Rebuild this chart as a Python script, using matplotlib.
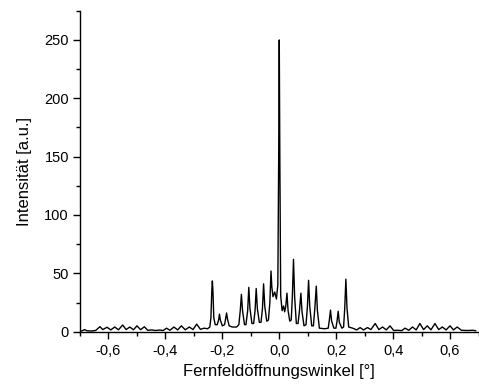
import matplotlib
matplotlib.use("Agg")
import matplotlib.pyplot as plt
from matplotlib.ticker import MultipleLocator, FuncFormatter

plt.rcParams['font.family'] = ['Liberation Sans', 'DejaVu Sans']

# Far-field intensity profile (angle in degrees, intensity in a.u.)
angle = [
    -0.700, -0.692, -0.684, -0.676, -0.660, -0.645, -0.630, -0.620, -0.605, -0.592,
    -0.578, -0.565, -0.550, -0.538, -0.525, -0.512, -0.500, -0.487, -0.474, -0.462,
    -0.448, -0.435, -0.420, -0.408, -0.396, -0.384, -0.370, -0.357, -0.344, -0.330,
    -0.316, -0.303, -0.290, -0.277, -0.264, -0.252, -0.244, -0.240, -0.237, -0.235,
    -0.233, -0.230, -0.225, -0.218, -0.213, -0.210, -0.207, -0.200, -0.192, -0.188,
    -0.185, -0.182, -0.176, -0.165, -0.150, -0.142, -0.137, -0.133, -0.129, -0.122,
    -0.117, -0.111, -0.107, -0.103, -0.096, -0.090, -0.085, -0.081, -0.077, -0.070,
    -0.064, -0.059, -0.055, -0.051, -0.044, -0.038, -0.033, -0.029, -0.026, -0.022,
    -0.016, -0.010, -0.005, -0.002, 0.000, 0.002, 0.005, 0.010, 0.015, 0.019,
    0.023, 0.027, 0.031, 0.037, 0.042, 0.046, 0.050, 0.054, 0.060, 0.066,
    0.071, 0.076, 0.080, 0.087, 0.094, 0.099, 0.103, 0.107, 0.114, 0.120,
    0.125, 0.130, 0.134, 0.141, 0.160, 0.172, 0.176, 0.180, 0.184, 0.192,
    0.199, 0.203, 0.207, 0.211, 0.220, 0.226, 0.230, 0.234, 0.238, 0.244,
    0.258, 0.272, 0.284, 0.296, 0.310, 0.322, 0.337, 0.350, 0.363, 0.376,
    0.389, 0.402, 0.416, 0.430, 0.442, 0.455, 0.468, 0.481, 0.494, 0.507,
    0.520, 0.533, 0.547, 0.560, 0.573, 0.586, 0.600, 0.612, 0.625, 0.640,
    0.660, 0.680, 0.690,
]
intensity = [
    0.5, 0.8, 1.8, 0.8, 0.6, 1.0, 4.3, 1.8, 3.8, 1.5,
    4.0, 1.6, 5.7, 1.8, 4.0, 1.6, 5.0, 1.7, 4.2, 1.2,
    1.5, 1.0, 1.4, 1.0, 3.0, 1.2, 4.0, 1.5, 5.0, 1.6,
    4.0, 1.8, 6.5, 2.0, 3.0, 2.5, 4.0, 12.0, 35.0, 43.5,
    35.0, 12.0, 6.0, 6.0, 10.0, 15.0, 10.0, 5.0, 6.0, 12.0,
    16.0, 11.0, 5.0, 4.0, 4.0, 6.0, 18.0, 32.0, 18.0, 6.0,
    6.0, 18.0, 38.0, 20.0, 7.0, 7.0, 18.0, 37.0, 20.0, 8.0,
    8.0, 20.0, 41.0, 22.0, 9.0, 10.0, 25.0, 52.0, 38.0, 30.0,
    34.0, 28.0, 40.0, 150.0, 250.0, 150.0, 31.0, 18.0, 22.0, 17.0,
    22.0, 33.0, 18.0, 9.0, 10.0, 30.0, 62.0, 30.0, 7.0, 7.0,
    18.0, 33.0, 17.0, 5.0, 6.0, 22.0, 44.0, 22.0, 5.0, 5.0,
    20.0, 39.0, 18.0, 3.0, 2.5, 3.0, 10.0, 18.5, 9.0, 3.0,
    3.0, 9.0, 17.5, 8.0, 3.0, 4.0, 20.0, 45.0, 20.0, 4.0,
    3.0, 1.5, 3.5, 1.5, 3.5, 1.8, 7.0, 1.8, 4.0, 1.5,
    5.0, 1.0, 1.2, 0.9, 3.0, 1.2, 4.0, 1.5, 7.0, 1.8,
    5.0, 1.6, 7.0, 1.8, 4.0, 1.5, 5.0, 1.5, 4.0, 1.2,
    1.0, 1.2, 0.8,
]

x_range = (-0.70, 0.70)
y_range = (0, 275)

fig = plt.figure(figsize=(4.79, 3.85), dpi=100)
ax = fig.add_axes([0.167, 0.1385, 0.832, 0.8335])

ax.plot(angle, intensity, color='black', linewidth=1.0)

ax.set_xlim(*x_range)
ax.set_ylim(*y_range)

ax.xaxis.set_major_locator(MultipleLocator(0.2))
ax.xaxis.set_minor_locator(MultipleLocator(0.1))
ax.yaxis.set_major_locator(MultipleLocator(50))
ax.yaxis.set_minor_locator(MultipleLocator(25))
ax.xaxis.set_major_formatter(FuncFormatter(lambda v, p: f"{v:.1f}".replace('.', ',').replace('-0,0', '0,0')))

ax.tick_params(axis='both', which='major', direction='out', length=5, width=1,
               labelsize=10.5, colors='black')
ax.tick_params(axis='x', which='major', pad=4)
ax.tick_params(axis='y', which='major', pad=3)
ax.tick_params(axis='both', which='minor', direction='out', length=3, width=1)

for side in ('top', 'right'):
    ax.spines[side].set_visible(False)
for side in ('left', 'bottom'):
    ax.spines[side].set_linewidth(1.0)

ax.set_xlabel('Fernfeldöffnungswinkel [°]', fontsize=12, labelpad=4)
ax.set_ylabel('Intensität [a.u.]', fontsize=12, labelpad=9)

fig.savefig('out.png', dpi=100)
